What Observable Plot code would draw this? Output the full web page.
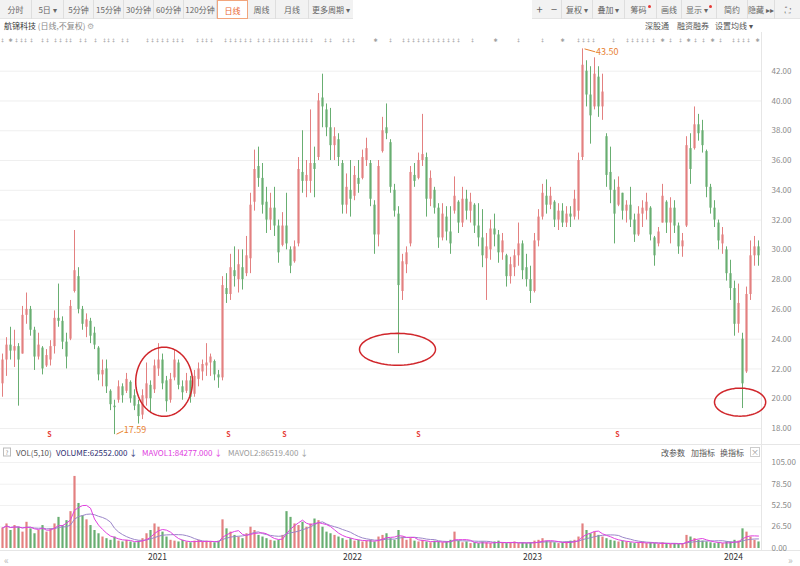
<!DOCTYPE html>
<html><head><meta charset="utf-8">
<script src="https://cdn.jsdelivr.net/npm/d3@7"></script>
<script src="https://cdn.jsdelivr.net/npm/@observablehq/plot@0.6"></script>
<style>
body{margin:0;background:#fff;font-family:"Noto Sans CJK SC","Noto Sans",sans-serif;}
#wrap{position:relative;width:800px;height:566px;overflow:hidden;background:#fff;}
.bar{position:absolute;top:0;height:19px;background:#f2f2f2;border-bottom:1px solid #e4e4e4;box-sizing:border-box;}
.btn{position:absolute;top:0;height:19px;line-height:19px;font-size:8px;color:#666;text-align:center;border-right:1px solid #dedede;box-sizing:border-box;white-space:nowrap;}
.sel{background:#fff;border:1px solid #f2a57c;color:#e9652e;}
.dot{display:inline-block;width:3px;height:3px;border-radius:2px;background:#e53935;vertical-align:top;margin-top:5px;margin-left:1px;}
.lab{position:absolute;font-size:8px;white-space:nowrap;transform:translate(0,-50%);}
.ctr{transform:translate(-50%,-50%);}
.plot{position:absolute;left:0;}
.hline{position:absolute;left:0;width:800px;height:1px;background:#e6e6e6;}
.vline{position:absolute;width:1px;background:#e6e6e6;}
</style></head>
<body><div id="wrap">
  <div class="bar" style="left:0;width:353px"></div>
  <div class="btn" style="left:0;width:32px">分时</div>
  <div class="btn" style="left:32px;width:32px">5日 ▾</div>
  <div class="btn" style="left:64px;width:30px">5分钟</div>
  <div class="btn" style="left:94px;width:30px">15分钟</div>
  <div class="btn" style="left:124px;width:30px">30分钟</div>
  <div class="btn" style="left:154px;width:30px">60分钟</div>
  <div class="btn" style="left:184px;width:33px">120分钟</div>
  <div class="btn sel" style="left:217px;width:31px">日线</div>
  <div class="btn" style="left:248px;width:28px">周线</div>
  <div class="btn" style="left:276px;width:33px">月线</div>
  <div class="btn" style="left:309px;width:44px;border-right:none">更多周期 ▾</div>

  <div class="bar" style="left:532px;width:268px"></div>
  <div class="btn" style="left:532px;width:15px;border-right:none;font-size:11px">+</div>
  <div class="btn" style="left:547px;width:15px;font-size:11px">−</div>
  <div class="btn" style="left:562px;width:31px">复权 ▾</div>
  <div class="btn" style="left:593px;width:32px">叠加 ▾</div>
  <div class="btn" style="left:625px;width:32px">筹码<span class="dot"></span></div>
  <div class="btn" style="left:657px;width:25px">画线</div>
  <div class="btn" style="left:682px;width:35px">显示 ▾<span class="dot"></span></div>
  <div class="btn" style="left:717px;width:31px">简约</div>
  <div class="btn" style="left:748px;width:27px">隐藏 ▸▸</div>
  <div class="btn" style="left:775px;width:25px;border-right:none">⛶</div>

  <div class="lab" style="left:4px;top:25px;color:#333">航锦科技 <span style="color:#888">(日线,不复权)</span> <span style="color:#aaa">⚙</span></div>
  <div class="lab ctr" style="left:657px;top:25px;color:#555">深股通</div>
  <div class="lab ctr" style="left:693px;top:25px;color:#555">融资融券</div>
  <div class="lab ctr" style="left:734px;top:25px;color:#555">设置均线 ▾</div>

  <div class="hline" style="top:444px"></div>
  <div class="lab" style="left:3px;top:452px;width:8px;height:9px;border:1px solid #bbb;box-sizing:border-box;font-size:6px;line-height:7px;text-align:center;color:#888">?</div>
  <div class="lab" style="left:16px;top:452px;color:#555">VOL(5,10)</div>
  <div class="lab" style="left:56px;top:452px;color:#2e2e70">VOLUME:62552.000 ↓</div>
  <div class="lab" style="left:142px;top:452px;color:#e040e0">MAVOL1:84277.000 ↓</div>
  <div class="lab" style="left:228px;top:452px;color:#9a9a9a">MAVOL2:86519.400 ↓</div>
  <div class="lab ctr" style="left:673px;top:452px;color:#555">改参数</div>
  <div class="lab ctr" style="left:703px;top:452px;color:#555">加指标</div>
  <div class="lab ctr" style="left:732px;top:452px;color:#555">换指标</div>
  <div class="lab ctr" style="left:755px;top:452px;width:10px;height:10px;border:1px solid #ccc;box-sizing:border-box;font-size:8px;line-height:8px;text-align:center;color:#999">×</div>

  <div class="hline" style="top:550px"></div>
  <div class="vline" style="left:761px;top:32px;height:518px"></div>
  <div class="lab" style="left:4px;top:559px;color:#bbb;font-size:10px">«</div>
  <div class="lab" style="left:788px;top:559px;color:#bbb;font-size:10px">»</div>
</div>
<script>
// ---- data: one candle per ~4px column ----
const open = [
21.0,22.6,23.6,23.2,23.5,23.0,25.6,26.0,24.6,22.8,
23.4,22.2,22.6,23.5,25.4,25.2,23.8,24.0,27.2,28.2,
26.0,24.8,25.2,24.4,23.4,21.6,22.0,20.5,19.5,19.9,
20.8,20.5,21.1,20.2,19.6,18.9,20.0,20.9,20.6,22.0,
22.6,21.2,19.9,21.4,22.4,20.8,20.5,21.2,20.3,21.3,
21.8,22.2,22.4,22.5,21.6,21.4,27.4,27.0,28.6,28.0,
28.8,28.4,29.4,33.2,35.6,34.8,33.2,32.0,32.8,31.6,
30.3,31.6,30.0,29.2,30.4,35.2,34.6,34.6,35.8,36.2,
40.2,39.4,38.2,37.0,37.4,35.8,33.0,34.0,33.6,34.8,
34.8,36.0,35.8,33.0,31.0,36.6,38.2,37.2,34.0,32.4,
27.2,29.0,30.4,35.0,34.8,36.0,36.2,33.4,34.0,32.8,
30.8,32.2,31.2,32.6,33.2,31.8,33.4,32.6,33.0,31.6,
30.8,29.4,30.0,31.4,31.0,29.8,29.6,28.2,28.8,29.6,
30.4,28.8,28.0,27.2,30.6,32.2,33.6,33.0,33.2,32.0,
32.6,31.8,32.4,32.2,32.6,36.2,42.0,40.4,39.6,41.6,
39.6,37.6,35.2,34.0,33.0,33.8,32.6,33.0,32.0,31.0,
32.4,32.6,32.8,30.8,30.4,31.8,33.2,31.8,32.8,31.6,
30.2,31.6,36.8,36.8,38.4,38.0,36.6,34.2,32.8,31.8,
30.4,30.0,28.4,27.4,25.0,24.0,21.8,27.0,29.6,30.2];
const high = [
23.0,24.1,24.8,24.6,23.7,26.2,27.1,26.2,24.8,24.4,
23.5,23.3,23.9,25.9,27.7,25.5,24.4,26.6,31.3,28.8,
26.2,25.7,25.4,24.8,23.5,22.6,22.6,20.6,19.9,21.2,
21.0,21.7,21.2,20.6,19.9,20.6,22.4,21.2,22.6,23.7,
23.0,21.5,21.7,23.3,22.6,21.2,21.7,21.5,21.9,22.4,
22.6,23.7,23.0,22.6,21.9,28.2,28.4,29.7,30.2,30.0,
30.0,30.9,33.8,36.7,36.9,35.8,34.2,33.8,34.2,32.0,
32.5,33.8,30.2,30.6,36.2,38.0,36.0,39.4,36.9,40.5,
41.8,39.8,39.5,38.2,37.8,36.0,35.1,36.0,35.6,36.0,
36.7,37.5,36.0,33.3,36.0,38.9,39.8,37.4,34.4,32.9,
29.7,30.2,35.6,35.8,36.5,39.1,36.5,35.3,34.2,33.1,
33.1,32.9,32.9,34.9,33.3,34.2,34.0,33.8,33.1,33.1,
32.7,31.1,32.0,32.4,31.3,31.1,29.7,29.5,30.0,31.8,
30.6,29.7,28.9,31.1,32.7,34.4,34.7,34.2,33.3,33.1,
33.1,32.9,32.9,34.0,36.5,43.5,42.7,42.3,42.9,42.3,
41.8,37.8,36.9,34.7,34.9,33.8,33.3,34.2,32.4,32.9,
33.3,33.8,32.9,30.9,31.5,34.4,33.3,33.5,33.3,31.8,
31.1,37.6,37.8,39.6,39.1,38.7,36.7,34.4,33.3,32.0,
31.5,30.2,29.3,27.9,27.7,24.4,27.5,30.6,30.9,30.6];
const low = [
20.1,21.5,22.6,22.1,19.5,23.0,25.0,24.2,21.9,22.6,
21.6,22.1,22.2,23.0,24.8,23.3,22.0,23.9,27.1,25.7,
24.6,24.1,23.7,23.3,21.2,20.8,20.35,19.2,17.59,19.7,
19.7,20.35,19.7,19.2,18.3,18.6,19.5,19.0,20.35,21.5,
20.6,19.1,19.7,21.2,20.6,19.9,20.35,19.7,20.1,20.8,
21.2,21.5,21.5,21.2,20.7,21.2,26.4,26.6,27.5,27.1,
27.3,28.2,28.4,32.6,34.2,32.4,31.1,31.3,30.9,29.1,
30.2,30.0,28.4,29.1,30.2,33.8,33.5,33.8,33.5,36.0,
38.2,37.6,36.0,36.0,35.6,32.4,32.4,32.2,33.3,33.8,
34.7,35.6,32.9,29.7,30.2,36.5,37.4,33.8,32.2,23.03,
26.6,28.4,30.2,34.2,34.7,35.6,32.2,32.9,32.4,30.1,
30.6,30.6,29.7,32.4,31.1,31.5,32.0,31.8,31.1,30.2,
28.8,26.6,29.3,30.2,29.1,29.3,27.5,27.7,28.2,28.9,
28.0,27.5,26.4,27.1,30.2,32.0,32.4,32.7,31.5,31.3,
31.5,31.5,31.5,32.0,32.0,36.0,39.6,37.1,39.4,38.9,
38.7,34.2,33.1,30.4,32.9,32.0,31.8,31.5,30.5,30.9,
31.5,32.0,30.6,28.9,30.2,31.8,31.1,30.4,31.1,29.7,
29.5,31.5,34.4,36.7,37.3,36.5,33.5,32.4,31.5,30.0,
29.7,27.9,26.6,24.2,24.4,19.34,21.7,26.6,28.9,28.9];
const close = [
22.6,23.6,23.2,23.5,22.6,25.6,26.0,24.6,22.8,23.6,
22.0,22.9,23.5,25.4,25.2,23.8,22.8,26.2,28.6,26.0,
25.0,25.3,24.2,23.6,21.6,21.9,20.8,19.6,19.4,20.8,
20.2,21.3,20.0,19.5,18.8,20.2,21.0,20.0,22.2,22.6,
21.0,19.8,21.3,22.6,20.9,20.4,21.2,20.1,21.5,22.0,
22.3,22.4,22.8,21.6,21.4,27.6,27.0,28.8,28.2,29.0,
28.0,29.6,33.0,35.4,34.8,33.0,32.0,32.8,31.6,29.8,
31.6,30.4,28.9,30.2,35.4,34.6,35.0,35.8,35.4,40.0,
39.6,38.2,37.0,37.6,36.2,33.0,34.2,33.4,35.0,34.4,
36.2,36.8,33.4,31.0,35.6,38.0,37.8,34.2,32.6,27.6,
29.2,29.8,35.2,34.6,36.0,36.4,33.4,34.8,32.8,30.8,
32.4,31.2,30.4,33.6,31.8,33.4,32.6,33.2,31.6,30.8,
29.6,30.2,31.4,31.0,29.8,30.6,28.2,29.0,29.6,30.4,
28.6,28.0,27.2,30.6,32.2,33.8,33.0,33.6,32.0,32.6,
31.8,32.4,32.2,33.4,36.0,42.4,40.4,39.0,41.8,39.6,
40.6,35.0,34.0,32.4,34.2,32.6,33.0,32.0,31.0,32.4,
32.8,33.2,31.0,29.6,31.2,33.6,31.8,32.8,31.6,30.2,
30.6,37.0,35.4,38.4,37.8,37.0,34.2,32.8,32.0,30.6,
31.0,28.4,27.4,25.0,26.4,21.0,27.0,29.6,30.2,29.6];
const volume = [
25,30,22,28,26,20,32,24,18,22,
28,20,24,30,38,28,34,45,88,55,
40,35,28,22,18,14,12,10,14,9,
8,10,8,7,9,12,18,22,30,26,
20,14,10,9,8,10,8,7,9,10,
8,9,8,7,9,35,24,20,16,14,
12,18,26,22,16,14,12,10,9,10,
16,45,38,30,28,32,26,30,36,34,
26,20,18,16,14,12,10,12,9,10,
8,9,10,8,14,16,18,12,10,22,
14,10,12,9,8,10,8,7,9,8,
7,8,10,20,9,7,8,6,7,6,
8,7,6,8,9,7,6,7,8,6,
7,6,7,9,10,12,9,8,7,6,
7,8,9,10,14,30,22,18,20,16,
14,12,10,9,8,9,8,7,6,7,
8,6,7,6,5,7,6,5,6,5,
6,16,14,12,10,9,8,7,6,7,
6,8,8,10,9,24,20,14,10,8];

const priceTicks = [18,20,22,24,26,28,30,32,34,36,38,40,42];
const volTicks = [0,26.5,52.5,78.5,105];
const yearLabels = ["2021","2022","2023","2024"];
const yearPos = [38.75, 87.5, 132.5, 182.75];      // candle index of first session
const sMarks = [11.75, 56.5, 70.5, 104, 153.75];   // candle index of red S markers
const topMarks = [0,2,3.5,4.75,5.75,7.25,10,11.25,13.25,14.5,16,17,19.5,20.75,23.25,25.5,26.5,27.75,30,31.25,
  36.25,37.5,38.75,40,41.25,42.75,43.75,45,48.75,50,51,52.25,55.75,57,58.25,59.5,60.75,62,64,65.25,66.75,68,69,
  70.25,71.25,72.75,74,75,76,77.25,80.75,82,85.25,86.5,87.75,93.25,97,100.25,101.5,102.75,104,105.25,106.5,107.75,109,
  110.25,111.5,112.75,114,117.5,123.25,129,135,140,144,145.25,146.5,147.75,152.75,156.25,157.5,158.75,160,161.25,162.75,
  165,167,169.5,171.5,173.25,175.25,177.5,179.5,182.75,184,185.25,186.5,188.75];
const lowLabel = {i: 28, p: 17.59, t: "17.59"};
const highLabel = {i: 145, p: 43.50, t: "43.50"};
// red hand-drawn ellipses: centre (candle index, price) and radii
const ellipses = [
  {ci: 40.4, cp: 21.14, ri: 7.1, rp: 2.32},
  {ci: 98.75, cp: 23.32, ri: 9.5, rp: 1.07},
  {ci: 184.4, cp: 19.77, ri: 6.4, rp: 0.94}];

const UP = "#e38080", DOWN = "#68ae71", ANNO = "#e8812f";
const candles = close.map((c, i) => ({i, o: open[i], h: high[i], l: low[i], c, v: volume[i], up: c >= open[i]}));
const N = candles.length;
const ups = candles.filter(d => d.up), downs = candles.filter(d => !d.up);
const bodyEnd = d => Math.abs(d.c - d.o) < 0.06 ? d.o + 0.06 : d.c;
const ellipsePts = ellipses.flatMap((e, k) => d3.range(0, 73).map(j => ({k,
  x: e.ci + e.ri * Math.cos(j / 72 * 2 * Math.PI), y: e.cp + e.rp * Math.sin(j / 72 * 2 * Math.PI)})));
// wide star glyph only where neighbours leave room, narrow dagger elsewhere
const glyph = (d, i) => {
  const prev = i > 0 ? d - topMarks[i - 1] : 9, next = i < topMarks.length - 1 ? topMarks[i + 1] - d : 9;
  return (i % 3 === 1 && prev >= 1.5 && next >= 1.5) ? "✱" : "‡";
};
const xScale = {type: "linear", domain: [-0.5, N - 0.5], range: [0, 760], axis: null};
const font = "Noto Sans CJK SC, Noto Sans, sans-serif";

const price = Plot.plot({
  width: 800, height: 410, marginLeft: 0, marginRight: 39, marginTop: 0, marginBottom: 0,
  style: {background: "transparent", fontFamily: font, overflow: "visible"},
  x: xScale,
  y: {domain: [18, 42], range: [396, 38.7], axis: null},
  marks: [
    Plot.ruleY(priceTicks, {stroke: "#efefef"}),
    Plot.ruleX(ups, {x: "i", y1: "l", y2: "h", stroke: UP, strokeWidth: 1}),
    Plot.ruleX(downs, {x: "i", y1: "l", y2: "h", stroke: DOWN, strokeWidth: 1}),
    Plot.ruleX(ups, {x: "i", y1: "o", y2: bodyEnd, stroke: UP, strokeWidth: 2.2}),
    Plot.ruleX(downs, {x: "i", y1: "o", y2: bodyEnd, stroke: DOWN, strokeWidth: 2.2}),
    Plot.line(ellipsePts, {x: "x", y: "y", z: "k", stroke: "#d0262b", strokeWidth: 1.5}),
    Plot.link([lowLabel], {x1: d => d.i + 0.5, y1: d => d.p + 0.03, x2: d => d.i + 2.2, y2: d => d.p + 0.25, stroke: ANNO, strokeWidth: 1}),
    Plot.text([lowLabel], {x: d => d.i + 2.3, y: d => d.p + 0.27, text: "t", textAnchor: "start", fill: ANNO, fontSize: 9}),
    Plot.link([highLabel], {x1: d => d.i + 0.5, y1: d => d.p, x2: d => d.i + 3.2, y2: d => d.p - 0.2, stroke: ANNO, strokeWidth: 1}),
    Plot.text([highLabel], {x: d => d.i + 3.4, y: d => d.p - 0.2, text: "t", textAnchor: "start", fill: ANNO, fontSize: 9}),
    Plot.text(topMarks, {x: d => d, frameAnchor: "top", dy: 6, text: glyph, fontSize: 5, fontFamily: "DejaVu Sans", fill: "#a0a0a0"}),
    Plot.text(sMarks, {x: d => d, frameAnchor: "bottom", dy: -6, text: () => "S", fontSize: 7, fontWeight: "bold", fill: "#e53935"}),
    Plot.axisY(priceTicks, {anchor: "right", label: null, tickSize: 0, tickPadding: 10, tickFormat: d => d.toFixed(2), fontSize: 8, color: "#8a8a8a"})
  ]
});
price.classList.add("plot"); price.style.top = "32px";
document.getElementById("wrap").appendChild(price);

const vol = Plot.plot({
  width: 800, height: 108, marginLeft: 0, marginRight: 39, marginTop: 0, marginBottom: 0,
  style: {background: "transparent", fontFamily: font, overflow: "visible"},
  x: xScale,
  y: {domain: [0, 105], range: [90, 4], axis: null},
  marks: [
    Plot.ruleY(volTicks.slice(1), {stroke: "#f1f1f1"}),
    Plot.ruleX(ups, {x: "i", y1: 0, y2: "v", stroke: UP, strokeWidth: 2.2}),
    Plot.ruleX(downs, {x: "i", y1: 0, y2: "v", stroke: DOWN, strokeWidth: 2.2}),
    Plot.lineY(candles, Plot.windowY({k: 10, anchor: "end"}, {x: "i", y: "v", stroke: "#9b86c9", strokeWidth: 1})),
    Plot.lineY(candles, Plot.windowY({k: 5, anchor: "end"}, {x: "i", y: "v", stroke: "#e040e0", strokeWidth: 1})),
    Plot.text(yearLabels, {x: (d, i) => yearPos[i], text: d => d, frameAnchor: "bottom", dy: -7, fontSize: 8.5, fill: "#333"}),
    Plot.axisY(volTicks, {anchor: "right", label: null, tickSize: 0, tickPadding: 10, tickFormat: d => d.toFixed(2), fontSize: 8, color: "#8a8a8a"})
  ]
});
vol.classList.add("plot"); vol.style.top = "458px";
document.getElementById("wrap").appendChild(vol);
</script>
</body></html>
